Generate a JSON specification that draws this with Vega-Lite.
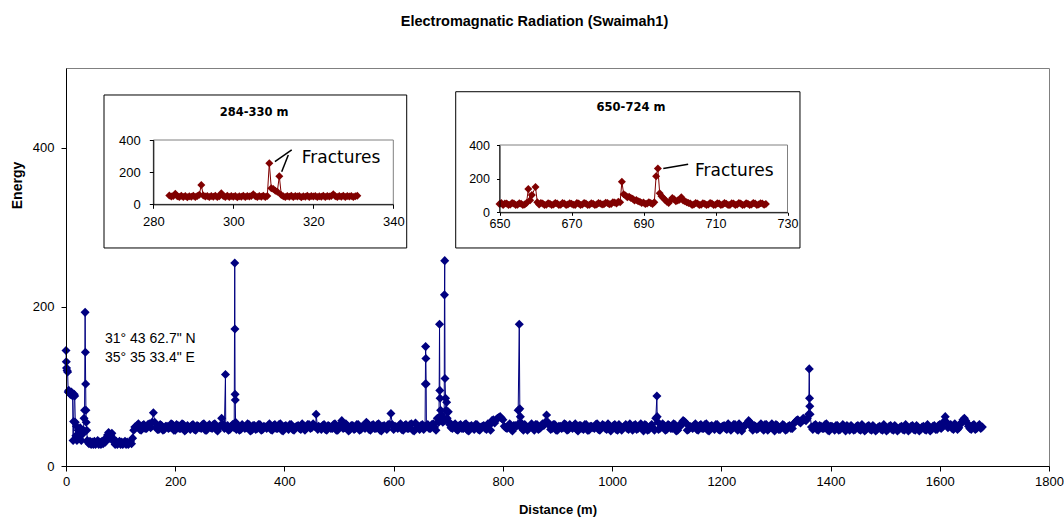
{
  "$schema": "https://vega.github.io/schema/vega-lite/v6.json",
  "autosize": "none",
  "width": 983,
  "height": 398,
  "padding": {"left": 66, "top": 68, "right": 15, "bottom": 54},
  "background": "white",
  "title": {"text": "Electromagnatic Radiation (Swaimah1)", "font": "Liberation Sans", "fontSize": 14.5, "fontWeight": "bold", "anchor": "middle", "frame": "group", "dx": -23, "offset": 28, "baseline": "alphabetic", "color": "#000"},
  "config": {
    "view": {"stroke": "#808080", "strokeWidth": 1},
    "axis": {"grid": false, "domainColor": "#000", "tickColor": "#000", "labelColor": "#000", "titleColor": "#000", "domainWidth": 1, "tickWidth": 1}
  },
  "datasets": {
    "main": [
      {"x":0,"y":145},{"x":0.5,"y":131},{"x":1,"y":123},{"x":2,"y":120},{"x":3,"y":118},{"x":4,"y":93},{"x":5,"y":95},{"x":6,"y":92},{"x":8,"y":90},{"x":10,"y":93},{"x":11,"y":91},{"x":12,"y":88},{"x":13,"y":32},{"x":14,"y":56},{"x":15,"y":90},{"x":16,"y":88},{"x":17,"y":55},{"x":18,"y":38},{"x":19,"y":50},{"x":20,"y":32},{"x":22,"y":45},{"x":24,"y":35},{"x":26,"y":48},{"x":28,"y":32},{"x":30,"y":40},{"x":32,"y":45},{"x":33,"y":60},{"x":34,"y":70},{"x":35,"y":193},{"x":35.5,"y":143},{"x":36,"y":103},{"x":36.5,"y":70},{"x":37,"y":55},{"x":38,"y":45},{"x":39,"y":32},{"x":40,"y":30},
      {"x":42,"y":28},{"x":44,"y":31},{"x":46,"y":27},{"x":48,"y":30},{"x":50,"y":27},{"x":52,"y":31},{"x":54,"y":27},{"x":56,"y":29},{"x":58,"y":32},{"x":60,"y":27},{"x":62,"y":30},{"x":64,"y":27},{"x":66,"y":31},{"x":68,"y":28},{"x":70,"y":33},{"x":72,"y":30},{"x":74,"y":35},{"x":76,"y":39},{"x":78,"y":42},{"x":80,"y":35},{"x":82,"y":38},{"x":84,"y":41},{"x":86,"y":35},{"x":88,"y":30},{"x":90,"y":27},{"x":92,"y":31},{"x":94,"y":27},{"x":96,"y":29},{"x":98,"y":31},{"x":100,"y":27},{"x":102,"y":30},{"x":104,"y":27},{"x":106,"y":29},{"x":108,"y":31},{"x":110,"y":27},{"x":112,"y":30},{"x":114,"y":27},{"x":116,"y":29},{"x":118,"y":31},{"x":120,"y":28},{"x":122,"y":35},{"x":124,"y":45},
      {"x":126,"y":49},{"x":130,"y":51},{"x":135,"y":46},{"x":140,"y":51},{"x":145,"y":47},{"x":150,"y":52},{"x":155,"y":48},{"x":160,"y":67},{"x":165,"y":49},{"x":170,"y":46},{"x":175,"y":51},{"x":180,"y":46},{"x":185,"y":50},{"x":190,"y":48},{"x":195,"y":52},{"x":200,"y":45},{"x":205,"y":51},{"x":210,"y":47},{"x":215,"y":52},{"x":220,"y":46},{"x":225,"y":49},{"x":230,"y":51},{"x":235,"y":46},{"x":240,"y":51},{"x":245,"y":48},{"x":250,"y":52},{"x":255,"y":45},{"x":260,"y":50},{"x":265,"y":48},{"x":270,"y":52},{"x":275,"y":46},{"x":280,"y":49},{"x":285,"y":60},{"x":290,"y":47},{"x":292,"y":115},{"x":294,"y":48},{"x":296,"y":51},{"x":300,"y":46},{"x":305,"y":52},{"x":308,"y":48},{"x":309,"y":255},{"x":309.3,"y":172},{"x":309.6,"y":90},{"x":310,"y":83},{"x":310.5,"y":55},{"x":312,"y":46},{"x":315,"y":51},{"x":320,"y":46},{"x":325,"y":50},{"x":330,"y":48},{"x":335,"y":52},{"x":340,"y":45},{"x":345,"y":51},{"x":350,"y":47},{"x":355,"y":52},{"x":360,"y":46},{"x":365,"y":49},{"x":370,"y":51},{"x":375,"y":46},{"x":380,"y":51},{"x":385,"y":47},{"x":390,"y":52},{"x":395,"y":45},{"x":400,"y":50},
      {"x":405,"y":48},{"x":410,"y":52},{"x":415,"y":46},{"x":420,"y":49},{"x":425,"y":51},{"x":430,"y":46},{"x":435,"y":51},{"x":440,"y":47},{"x":445,"y":52},{"x":450,"y":48},{"x":455,"y":50},{"x":458,"y":65},{"x":461,"y":46},{"x":465,"y":49},{"x":470,"y":51},{"x":475,"y":46},{"x":480,"y":51},{"x":485,"y":47},{"x":490,"y":52},{"x":495,"y":45},{"x":500,"y":50},{"x":505,"y":57},{"x":510,"y":48},{"x":515,"y":51},{"x":520,"y":46},{"x":525,"y":51},{"x":530,"y":47},{"x":535,"y":52},{"x":540,"y":46},{"x":545,"y":49},{"x":550,"y":55},{"x":555,"y":46},{"x":560,"y":51},{"x":565,"y":47},{"x":570,"y":52},{"x":575,"y":45},{"x":580,"y":50},{"x":585,"y":48},{"x":590,"y":52},{"x":595,"y":66},{"x":600,"y":46},{"x":605,"y":49},{"x":610,"y":51},{"x":615,"y":46},{"x":620,"y":51},{"x":625,"y":47},{"x":630,"y":52},{"x":635,"y":45},{"x":640,"y":54},{"x":645,"y":48},{"x":650,"y":51},{"x":655,"y":46},{"x":658,"y":103},{"x":658.5,"y":150},{"x":659,"y":135},{"x":659.5,"y":103},{"x":660,"y":51},{"x":665,"y":47},{"x":670,"y":52},{"x":675,"y":49},{"x":680,"y":60},{"x":683,"y":57},{"x":684,"y":178},{"x":684.5,"y":95},{"x":685,"y":85},{"x":686,"y":70},{"x":688,"y":62},{"x":690,"y":55},{"x":692,"y":60},{"x":693,"y":215},{"x":693.5,"y":258},{"x":694,"y":110},{"x":695,"y":85},{"x":696,"y":70},{"x":697,"y":80},{"x":698,"y":60},{"x":700,"y":68},{"x":702,"y":55},
      {"x":705,"y":48},{"x":710,"y":51},{"x":715,"y":46},{"x":720,"y":51},{"x":725,"y":47},{"x":730,"y":52},{"x":735,"y":45},{"x":740,"y":50},{"x":745,"y":48},{"x":750,"y":52},{"x":755,"y":46},{"x":760,"y":49},{"x":765,"y":51},{"x":770,"y":46},{"x":775,"y":51},{"x":780,"y":57},{"x":785,"y":54},{"x":790,"y":60},{"x":795,"y":62},{"x":800,"y":58},{"x":805,"y":48},{"x":810,"y":51},{"x":815,"y":46},{"x":820,"y":51},{"x":825,"y":50},{"x":828,"y":70},{"x":830,"y":178},{"x":831,"y":72},{"x":832,"y":62},{"x":835,"y":47},{"x":840,"y":52},{"x":845,"y":45},{"x":850,"y":50},{"x":855,"y":48},{"x":860,"y":52},{"x":865,"y":46},{"x":870,"y":49},{"x":875,"y":51},{"x":880,"y":64},{"x":885,"y":51},{"x":890,"y":47},{"x":895,"y":52},{"x":900,"y":45},{"x":905,"y":50},{"x":910,"y":48},{"x":915,"y":52},{"x":920,"y":46},{"x":925,"y":49},{"x":930,"y":51},{"x":935,"y":46},{"x":940,"y":51},{"x":945,"y":47},{"x":950,"y":52},{"x":955,"y":45},{"x":960,"y":50},{"x":965,"y":48},{"x":970,"y":52},{"x":975,"y":46},{"x":980,"y":49},{"x":985,"y":51},{"x":990,"y":46},{"x":995,"y":51},{"x":1000,"y":47},
      {"x":1005,"y":52},{"x":1010,"y":45},{"x":1015,"y":50},{"x":1020,"y":48},{"x":1025,"y":52},{"x":1030,"y":46},{"x":1035,"y":49},{"x":1040,"y":51},{"x":1045,"y":46},{"x":1050,"y":51},{"x":1055,"y":47},{"x":1060,"y":52},{"x":1065,"y":45},{"x":1070,"y":50},{"x":1075,"y":48},{"x":1080,"y":60},{"x":1082,"y":88},{"x":1084,"y":55},{"x":1085,"y":46},{"x":1090,"y":49},{"x":1095,"y":51},{"x":1100,"y":46},{"x":1105,"y":51},{"x":1110,"y":47},{"x":1115,"y":52},{"x":1120,"y":45},{"x":1125,"y":50},{"x":1130,"y":57},{"x":1135,"y":54},{"x":1140,"y":46},{"x":1145,"y":49},{"x":1150,"y":51},{"x":1155,"y":46},{"x":1160,"y":51},{"x":1165,"y":47},{"x":1170,"y":52},{"x":1175,"y":45},{"x":1180,"y":50},{"x":1185,"y":48},{"x":1190,"y":52},{"x":1195,"y":46},{"x":1200,"y":49},{"x":1205,"y":51},{"x":1210,"y":46},{"x":1215,"y":51},{"x":1220,"y":47},{"x":1225,"y":52},{"x":1230,"y":45},{"x":1235,"y":50},{"x":1240,"y":48},{"x":1245,"y":52},{"x":1250,"y":57},{"x":1255,"y":49},{"x":1260,"y":51},{"x":1265,"y":46},{"x":1270,"y":51},{"x":1275,"y":47},{"x":1280,"y":52},{"x":1285,"y":45},{"x":1290,"y":50},{"x":1295,"y":48},{"x":1300,"y":52},{"x":1305,"y":46},{"x":1310,"y":49},{"x":1315,"y":51},{"x":1320,"y":46},{"x":1325,"y":51},{"x":1330,"y":47},{"x":1335,"y":55},{"x":1340,"y":58},{"x":1345,"y":54},{"x":1350,"y":60},{"x":1355,"y":57},{"x":1360,"y":65},{"x":1361,"y":122},{"x":1361.5,"y":85},{"x":1362,"y":75},{"x":1362.5,"y":65},{"x":1365,"y":49},
      {"x":1370,"y":51},{"x":1375,"y":46},{"x":1380,"y":51},{"x":1385,"y":47},{"x":1390,"y":52},{"x":1395,"y":45},{"x":1400,"y":50},{"x":1405,"y":48},{"x":1410,"y":51},{"x":1415,"y":45},{"x":1420,"y":49},{"x":1425,"y":47},{"x":1430,"y":51},{"x":1435,"y":45},{"x":1440,"y":49},{"x":1445,"y":46},{"x":1450,"y":51},{"x":1455,"y":45},{"x":1460,"y":49},{"x":1465,"y":46},{"x":1470,"y":51},{"x":1475,"y":45},{"x":1480,"y":49},{"x":1485,"y":46},{"x":1490,"y":50},{"x":1495,"y":45},{"x":1500,"y":49},{"x":1505,"y":46},{"x":1510,"y":51},{"x":1515,"y":45},{"x":1520,"y":49},{"x":1525,"y":46},{"x":1530,"y":50},{"x":1535,"y":45},{"x":1540,"y":49},{"x":1545,"y":46},{"x":1550,"y":51},{"x":1555,"y":45},{"x":1560,"y":49},{"x":1565,"y":46},{"x":1570,"y":50},{"x":1575,"y":45},{"x":1580,"y":49},{"x":1585,"y":46},{"x":1590,"y":51},{"x":1595,"y":46},{"x":1600,"y":52},{"x":1605,"y":49},{"x":1610,"y":62},{"x":1615,"y":48},{"x":1620,"y":52},{"x":1625,"y":46},{"x":1630,"y":50},{"x":1635,"y":48},{"x":1640,"y":55},{"x":1645,"y":60},{"x":1650,"y":54},{"x":1655,"y":47},{"x":1660,"y":51},{"x":1665,"y":46},{"x":1670,"y":50},{"x":1675,"y":47},{"x":1678,"y":49},
      {"x":132.5,"y":53},{"x":137.5,"y":45},{"x":142.5,"y":52},{"x":147.5,"y":47},{"x":152.5,"y":53},{"x":157.5,"y":55},{"x":162.5,"y":55},{"x":167.5,"y":46},{"x":172.5,"y":52},{"x":177.5,"y":45},{"x":182.5,"y":50},{"x":187.5,"y":47},{"x":192.5,"y":53},{"x":197.5,"y":45},{"x":202.5,"y":52},{"x":207.5,"y":47},{"x":212.5,"y":53},{"x":217.5,"y":44},{"x":222.5,"y":51},{"x":227.5,"y":46},{"x":232.5,"y":52},{"x":237.5,"y":45},{"x":242.5,"y":50},{"x":247.5,"y":47},{"x":252.5,"y":53},{"x":257.5,"y":45},{"x":262.5,"y":52},{"x":267.5,"y":47},{"x":272.5,"y":53},{"x":277.5,"y":44},{"x":282.5,"y":51},{"x":287.5,"y":52},{"x":292.5,"y":50},{"x":297.5,"y":45},{"x":302.5,"y":50},{"x":307.5,"y":50},{"x":312.5,"y":52},{"x":317.5,"y":45},{"x":322.5,"y":52},{"x":327.5,"y":47},{"x":332.5,"y":53},{"x":337.5,"y":44},{"x":342.5,"y":51},{"x":347.5,"y":46},{"x":352.5,"y":52},{"x":357.5,"y":45},{"x":362.5,"y":50},{"x":367.5,"y":47},{"x":372.5,"y":53},{"x":377.5,"y":45},{"x":382.5,"y":52},{"x":387.5,"y":47},{"x":392.5,"y":53},{"x":397.5,"y":44},
      {"x":402.5,"y":51},{"x":407.5,"y":46},{"x":412.5,"y":52},{"x":417.5,"y":45},{"x":422.5,"y":50},{"x":427.5,"y":47},{"x":432.5,"y":53},{"x":437.5,"y":45},{"x":442.5,"y":52},{"x":447.5,"y":47},{"x":452.5,"y":53},{"x":457.5,"y":50},{"x":462.5,"y":50},{"x":467.5,"y":46},{"x":472.5,"y":52},{"x":477.5,"y":45},{"x":482.5,"y":50},{"x":487.5,"y":47},{"x":492.5,"y":53},{"x":497.5,"y":45},{"x":502.5,"y":52},{"x":507.5,"y":47},{"x":512.5,"y":53},{"x":517.5,"y":44},{"x":522.5,"y":51},{"x":527.5,"y":46},{"x":532.5,"y":52},{"x":537.5,"y":45},{"x":542.5,"y":50},{"x":547.5,"y":47},{"x":552.5,"y":53},{"x":557.5,"y":45},{"x":562.5,"y":52},{"x":567.5,"y":47},{"x":572.5,"y":53},{"x":577.5,"y":44},{"x":582.5,"y":51},{"x":587.5,"y":46},{"x":592.5,"y":52},{"x":597.5,"y":52},{"x":602.5,"y":50},{"x":607.5,"y":47},{"x":612.5,"y":53},{"x":617.5,"y":45},{"x":622.5,"y":52},{"x":627.5,"y":47},{"x":632.5,"y":53},{"x":637.5,"y":44},{"x":642.5,"y":51},{"x":647.5,"y":46},{"x":652.5,"y":52},{"x":657.5,"y":50},{"x":662.5,"y":52},{"x":667.5,"y":47},{"x":672.5,"y":53},{"x":677.5,"y":45},{"x":682.5,"y":55},{"x":687.5,"y":64},{"x":692.5,"y":57},{"x":697.5,"y":68},{"x":702.5,"y":52},
      {"x":707.5,"y":47},{"x":712.5,"y":53},{"x":717.5,"y":45},{"x":722.5,"y":52},{"x":727.5,"y":47},{"x":732.5,"y":53},{"x":737.5,"y":44},{"x":742.5,"y":51},{"x":747.5,"y":46},{"x":752.5,"y":52},{"x":757.5,"y":45},{"x":762.5,"y":50},{"x":767.5,"y":47},{"x":772.5,"y":53},{"x":777.5,"y":45},{"x":782.5,"y":58},{"x":787.5,"y":58},{"x":792.5,"y":61},{"x":797.5,"y":60},{"x":802.5,"y":50},{"x":807.5,"y":47},{"x":812.5,"y":53},{"x":817.5,"y":44},{"x":822.5,"y":51},{"x":827.5,"y":52},{"x":832.5,"y":55},{"x":837.5,"y":45},{"x":842.5,"y":50},{"x":847.5,"y":47},{"x":852.5,"y":53},{"x":857.5,"y":45},{"x":862.5,"y":52},{"x":867.5,"y":47},{"x":872.5,"y":53},{"x":877.5,"y":55},{"x":882.5,"y":55},{"x":887.5,"y":46},{"x":892.5,"y":52},{"x":897.5,"y":45},{"x":902.5,"y":50},{"x":907.5,"y":47},{"x":912.5,"y":53},{"x":917.5,"y":45},{"x":922.5,"y":52},{"x":927.5,"y":47},{"x":932.5,"y":53},{"x":937.5,"y":44},{"x":942.5,"y":51},{"x":947.5,"y":46},{"x":952.5,"y":52},{"x":957.5,"y":45},{"x":962.5,"y":50},{"x":967.5,"y":47},{"x":972.5,"y":53},{"x":977.5,"y":45},{"x":982.5,"y":52},{"x":987.5,"y":47},{"x":992.5,"y":53},{"x":997.5,"y":44},
      {"x":1002.5,"y":51},{"x":1007.5,"y":46},{"x":1012.5,"y":52},{"x":1017.5,"y":45},{"x":1022.5,"y":50},{"x":1027.5,"y":47},{"x":1032.5,"y":53},{"x":1037.5,"y":45},{"x":1042.5,"y":52},{"x":1047.5,"y":47},{"x":1052.5,"y":53},{"x":1057.5,"y":44},{"x":1062.5,"y":51},{"x":1067.5,"y":46},{"x":1072.5,"y":52},{"x":1077.5,"y":45},{"x":1082.5,"y":62},{"x":1087.5,"y":47},{"x":1092.5,"y":53},{"x":1097.5,"y":45},{"x":1102.5,"y":52},{"x":1107.5,"y":47},{"x":1112.5,"y":53},{"x":1117.5,"y":44},{"x":1122.5,"y":51},{"x":1127.5,"y":54},{"x":1132.5,"y":56},{"x":1137.5,"y":45},{"x":1142.5,"y":50},{"x":1147.5,"y":47},{"x":1152.5,"y":53},{"x":1157.5,"y":45},{"x":1162.5,"y":52},{"x":1167.5,"y":47},{"x":1172.5,"y":53},{"x":1177.5,"y":44},{"x":1182.5,"y":51},{"x":1187.5,"y":46},{"x":1192.5,"y":52},{"x":1197.5,"y":45},{"x":1202.5,"y":50},{"x":1207.5,"y":47},{"x":1212.5,"y":53},{"x":1217.5,"y":45},{"x":1222.5,"y":52},{"x":1227.5,"y":47},{"x":1232.5,"y":53},{"x":1237.5,"y":44},{"x":1242.5,"y":51},{"x":1247.5,"y":54},{"x":1252.5,"y":55},{"x":1257.5,"y":45},{"x":1262.5,"y":50},{"x":1267.5,"y":47},{"x":1272.5,"y":53},{"x":1277.5,"y":45},{"x":1282.5,"y":52},{"x":1287.5,"y":47},{"x":1292.5,"y":53},{"x":1297.5,"y":44},
      {"x":1302.5,"y":51},{"x":1307.5,"y":46},{"x":1312.5,"y":52},{"x":1317.5,"y":45},{"x":1322.5,"y":50},{"x":1327.5,"y":47},{"x":1332.5,"y":53},{"x":1337.5,"y":57},{"x":1342.5,"y":56},{"x":1347.5,"y":57},{"x":1352.5,"y":58},{"x":1357.5,"y":60},{"x":1367.5,"y":46},{"x":1372.5,"y":52},{"x":1377.5,"y":45},{"x":1382.5,"y":50},{"x":1387.5,"y":47},{"x":1392.5,"y":53},{"x":1397.5,"y":44},{"x":1402.5,"y":50},{"x":1407.5,"y":45},{"x":1412.5,"y":51},{"x":1417.5,"y":46},{"x":1422.5,"y":52},{"x":1427.5,"y":44},{"x":1432.5,"y":49},{"x":1437.5,"y":51},{"x":1442.5,"y":45},{"x":1447.5,"y":50},{"x":1452.5,"y":46},{"x":1457.5,"y":52},{"x":1462.5,"y":44},{"x":1467.5,"y":50},{"x":1472.5,"y":46},{"x":1477.5,"y":51},{"x":1482.5,"y":44},{"x":1487.5,"y":49},{"x":1492.5,"y":46},{"x":1497.5,"y":52},{"x":1502.5,"y":44},{"x":1507.5,"y":50},{"x":1512.5,"y":46},{"x":1517.5,"y":51},{"x":1522.5,"y":44},{"x":1527.5,"y":49},{"x":1532.5,"y":46},{"x":1537.5,"y":52},{"x":1542.5,"y":44},{"x":1547.5,"y":50},{"x":1552.5,"y":46},{"x":1557.5,"y":51},{"x":1562.5,"y":44},{"x":1567.5,"y":49},{"x":1572.5,"y":46},{"x":1577.5,"y":52},{"x":1582.5,"y":44},{"x":1587.5,"y":50},{"x":1592.5,"y":46},{"x":1597.5,"y":51},{"x":1602.5,"y":47},{"x":1607.5,"y":56},{"x":1612.5,"y":55},{"x":1617.5,"y":51},{"x":1622.5,"y":47},{"x":1627.5,"y":53},{"x":1632.5,"y":46},{"x":1637.5,"y":52},{"x":1642.5,"y":58},{"x":1647.5,"y":57},{"x":1652.5,"y":50},{"x":1657.5,"y":46},{"x":1662.5,"y":52},{"x":1667.5,"y":47},{"x":1672.5,"y":52}
    ],
    "boxes": [
      {"x":69.6,"x2":623.9,"y":466.1,"y2":273.9},
      {"x":713.6,"x2":1344,"y":470.2,"y2":273.9}
    ],
    "coords": [
      {"x":71.4,"y":159.3,"t":"31° 43 62.7\" N"},
      {"x":71.4,"y":135.1,"t":"35° 35 33.4\" E"}
    ],
    "insetTitles": [
      {"x":344.3,"y":443.3,"t":"284-330 m"},
      {"x":1034.6,"y":449.6,"t":"650-724 m"}
    ],
    "ins1": [
      {"x":284,"y":55},{"x":284.5,"y":48},{"x":285,"y":52},{"x":285.5,"y":65},{"x":286,"y":50},{"x":286.5,"y":45},{"x":287,"y":53},{"x":287.5,"y":46},{"x":288,"y":51},{"x":288.5,"y":44},{"x":289,"y":50},{"x":289.5,"y":47},{"x":290,"y":53},{"x":290.5,"y":45},{"x":291,"y":52},{"x":291.5,"y":60},{"x":292,"y":120},{"x":292.5,"y":55},{"x":293,"y":48},{"x":293.5,"y":52},{"x":294,"y":45},{"x":294.5,"y":51},{"x":295,"y":47},{"x":295.5,"y":53},{"x":296,"y":45},{"x":296.5,"y":50},{"x":297,"y":68},{"x":297.5,"y":52},{"x":298,"y":46},{"x":298.5,"y":53},{"x":299,"y":45},{"x":299.5,"y":51},{"x":300,"y":47},{"x":300.5,"y":52},{"x":301,"y":44},{"x":301.5,"y":50},{"x":302,"y":47},{"x":302.5,"y":53},{"x":303,"y":45},{"x":303.5,"y":51},{"x":304,"y":48},{"x":304.5,"y":52},{"x":305,"y":62},{"x":305.5,"y":50},{"x":306,"y":45},{"x":306.5,"y":52},{"x":307,"y":47},{"x":307.5,"y":53},{"x":308,"y":46},{"x":308.5,"y":52},{"x":309,"y":255},{"x":309.5,"y":100},{"x":310,"y":95},{"x":310.5,"y":85},{"x":311,"y":78},{"x":311.5,"y":175},{"x":312,"y":58},{"x":312.5,"y":50},{"x":313,"y":45},{"x":313.5,"y":52},{"x":314,"y":47},{"x":314.5,"y":53},{"x":315,"y":45},{"x":315.5,"y":51},{"x":316,"y":48},{"x":316.5,"y":52},{"x":317,"y":44},{"x":317.5,"y":50},{"x":318,"y":47},{"x":318.5,"y":53},{"x":319,"y":45},{"x":319.5,"y":51},{"x":320,"y":48},{"x":320.5,"y":52},{"x":321,"y":45},{"x":321.5,"y":50},{"x":322,"y":47},{"x":322.5,"y":53},{"x":323,"y":45},{"x":323.5,"y":51},{"x":324,"y":48},{"x":324.5,"y":52},{"x":325,"y":62},{"x":325.5,"y":50},{"x":326,"y":45},{"x":326.5,"y":52},{"x":327,"y":47},{"x":327.5,"y":53},{"x":328,"y":45},{"x":328.5,"y":51},{"x":329,"y":48},{"x":329.5,"y":52},{"x":330,"y":45},{"x":330.5,"y":50},{"x":331,"y":53}
    ],
    "ins2": [
      {"x":650,"y":50},{"x":650.5,"y":56},{"x":651,"y":44},{"x":651.5,"y":53},{"x":652,"y":52},{"x":652.5,"y":43},{"x":653,"y":46},{"x":653.5,"y":55},{"x":654,"y":53},{"x":654.5,"y":44},{"x":655,"y":45},{"x":655.5,"y":54},{"x":656,"y":51},{"x":656.5,"y":43},{"x":657,"y":47},{"x":657.5,"y":55},{"x":658,"y":138},{"x":658.5,"y":72},{"x":659,"y":103},{"x":660,"y":150},{"x":660.5,"y":60},{"x":661,"y":47},{"x":661.5,"y":55},{"x":662,"y":53},{"x":662.5,"y":44},{"x":663,"y":45},{"x":663.5,"y":54},{"x":664,"y":51},{"x":664.5,"y":43},{"x":665,"y":47},{"x":665.5,"y":56},{"x":666,"y":53},{"x":666.5,"y":44},{"x":667,"y":45},{"x":667.5,"y":55},{"x":668,"y":52},{"x":668.5,"y":43},{"x":669,"y":46},{"x":669.5,"y":54},{"x":670,"y":51},{"x":670.5,"y":45},{"x":671,"y":44},{"x":671.5,"y":55},{"x":672,"y":52},{"x":672.5,"y":43},{"x":673,"y":47},{"x":673.5,"y":56},{"x":674,"y":53},{"x":674.5,"y":44},{"x":675,"y":45},{"x":675.5,"y":54},{"x":676,"y":51},{"x":676.5,"y":44},{"x":677,"y":47},{"x":677.5,"y":55},{"x":678,"y":53},{"x":678.5,"y":46},{"x":679,"y":48},{"x":679.5,"y":57},{"x":680,"y":55},{"x":680.5,"y":48},{"x":681,"y":50},{"x":681.5,"y":60},{"x":682,"y":58},{"x":682.5,"y":52},{"x":683,"y":62},{"x":683.5,"y":60},{"x":684,"y":182},{"x":684.5,"y":107},{"x":685,"y":100},{"x":685.5,"y":90},{"x":686,"y":93},{"x":686.5,"y":85},{"x":687,"y":80},{"x":687.5,"y":70},{"x":688,"y":73},{"x":688.5,"y":65},{"x":689,"y":63},{"x":689.5,"y":56},{"x":690,"y":58},{"x":690.5,"y":50},{"x":691,"y":52},{"x":691.5,"y":60},{"x":692,"y":55},{"x":692.5,"y":50},{"x":693,"y":60},{"x":693.5,"y":215},{"x":694,"y":260},{"x":694.5,"y":113},{"x":695,"y":95},{"x":695.5,"y":85},{"x":696,"y":73},{"x":696.5,"y":62},{"x":697,"y":55},{"x":697.5,"y":70},{"x":698,"y":85},{"x":698.5,"y":78},{"x":699,"y":65},{"x":699.5,"y":70},{"x":700,"y":75},{"x":700.5,"y":90},{"x":701,"y":70},{"x":701.5,"y":65},{"x":702,"y":60},{"x":702.5,"y":55},{"x":703,"y":52},{"x":703.5,"y":44},{"x":704,"y":46},{"x":704.5,"y":55},{"x":705,"y":53},{"x":705.5,"y":44},{"x":706,"y":45},{"x":706.5,"y":54},{"x":707,"y":51},{"x":707.5,"y":43},{"x":708,"y":47},{"x":708.5,"y":55},{"x":709,"y":53},{"x":709.5,"y":44},{"x":710,"y":45},{"x":710.5,"y":54},{"x":711,"y":52},{"x":711.5,"y":43},{"x":712,"y":46},{"x":712.5,"y":55},{"x":713,"y":51},{"x":713.5,"y":44},{"x":714,"y":44},{"x":714.5,"y":54},{"x":715,"y":52},{"x":715.5,"y":43},{"x":716,"y":47},{"x":716.5,"y":55},{"x":717,"y":53},{"x":717.5,"y":44},{"x":718,"y":45},{"x":718.5,"y":54},{"x":719,"y":51},{"x":719.5,"y":43},{"x":720,"y":47},{"x":720.5,"y":55},{"x":721,"y":53},{"x":721.5,"y":44},{"x":722,"y":46},{"x":722.5,"y":54},{"x":723,"y":52},{"x":723.5,"y":45},{"x":724,"y":50}
    ],
    "frame1": [{"x":280,"x2":340,"y":0,"y2":400}],
    "frame2": [{"x":650,"x2":730,"y":0,"y2":400}],
    "ann1": [{"x":317.1,"y":288,"t":"Fractures"}],
    "ann2": [{"x":704.3,"y":247,"t":"Fractures"}],
    "arrows1": [
      {"x":310.4,"y":265,"x2":314.6,"y2":338},
      {"x":312.1,"y":203,"x2":313.75,"y2":307}
    ],
    "arrows2": [
      {"x":695.5,"y":261,"x2":702.4,"y2":285}
    ]
  },
  "layer": [
    {
      "encoding": {
        "x": {"field": "x", "type": "quantitative", "scale": {"domain": [0, 1800], "nice": false, "zero": false},
          "axis": {"orient": "bottom", "zindex": 1, "values": [0,200,400,600,800,1000,1200,1400,1600,1800], "format": "d", "tickSize": 5, "labelPadding": 4, "labelFont": "Liberation Sans", "labelFontSize": 13, "labelFlush": false, "title": "Distance (m)", "titleFont": "Liberation Sans", "titleFontWeight": "bold", "titleFontSize": 13, "titleBaseline": "middle", "titleY": 43}},
        "y": {"field": "y", "type": "quantitative", "scale": {"domain": [0, 500], "nice": false},
          "axis": {"orient": "left", "zindex": 1, "values": [0,200,400], "format": "d", "tickSize": 5, "labelPadding": 7, "labelFont": "Liberation Sans", "labelFontSize": 13, "labelFlush": false, "title": "Energy", "titleFont": "Liberation Sans", "titleFontWeight": "bold", "titleFontSize": 14, "titleBaseline": "middle", "titleX": -49, "titleY": 117, "titleAngle": -90}}
      },
      "layer": [
        {"data": {"name": "main"}, "mark": {"type": "line", "color": "#000080", "strokeWidth": 1, "point": {"shape": "diamond", "filled": true, "size": 82, "color": "#000080"}}},
        {"data": {"name": "boxes"}, "mark": {"type": "rect", "fill": "white", "stroke": "#000000", "strokeWidth": 1}, "encoding": {"x2": {"field": "x2"}, "y2": {"field": "y2"}}},
        {"data": {"name": "coords"}, "mark": {"type": "text", "align": "left", "baseline": "middle", "font": "Liberation Sans", "fontSize": 14, "color": "#000"}, "encoding": {"text": {"field": "t"}}},
        {"data": {"name": "insetTitles"}, "mark": {"type": "text", "align": "center", "baseline": "middle", "font": "DejaVu Sans", "fontWeight": "bold", "fontSize": 11.5, "color": "#000"}, "encoding": {"text": {"field": "t"}}}
      ]
    },
    {
      "encoding": {
        "x": {"field": "x", "type": "quantitative", "scale": {"domain": [280, 340], "range": [87.3, 327.3], "nice": false, "zero": false},
          "axis": {"orient": "bottom", "zindex": 3, "offset": -261.7, "values": [280,300,320,340], "tickSize": 4, "labelPadding": 7, "labelFont": "Liberation Sans", "labelFontSize": 13, "labelFlush": false, "title": null}},
        "y": {"field": "y", "type": "quantitative", "scale": {"domain": [0, 400], "range": [136.3, 72], "nice": false, "zero": false},
          "axis": {"orient": "left", "zindex": 3, "offset": -87.3, "values": [0,200,400], "tickSize": 4, "labelPadding": 9, "labelFont": "Liberation Sans", "labelFontSize": 13, "labelFlush": false, "title": null}}
      },
      "layer": [
        {"data": {"name": "frame1"}, "mark": {"type": "rect", "fill": null, "fillOpacity": 0, "stroke": "#808080", "strokeWidth": 1}, "encoding": {"x2": {"field": "x2"}, "y2": {"field": "y2"}}},
        {"data": {"name": "ins1"}, "mark": {"type": "line", "color": "#800000", "strokeWidth": 1, "point": {"shape": "diamond", "filled": true, "size": 64, "color": "#800000"}}},
        {"data": {"name": "arrows1"}, "mark": {"type": "rule", "color": "#000", "strokeWidth": 1.5}, "encoding": {"x2": {"field": "x2"}, "y2": {"field": "y2"}}},
        {"data": {"name": "ann1"}, "mark": {"type": "text", "align": "left", "baseline": "middle", "font": "DejaVu Sans", "fontSize": 17, "color": "#000"}, "encoding": {"text": {"field": "t"}}}
      ]
    },
    {
      "encoding": {
        "x": {"field": "x", "type": "quantitative", "scale": {"domain": [650, 730], "range": [433.5, 721.5], "nice": false, "zero": false},
          "axis": {"orient": "bottom", "zindex": 3, "offset": -253.7, "values": [650,670,690,710,730], "tickSize": 3, "labelPadding": 2, "labelFont": "Liberation Sans", "labelFontSize": 12.5, "labelFlush": false, "title": null}},
        "y": {"field": "y", "type": "quantitative", "scale": {"domain": [0, 400], "range": [144.3, 77], "nice": false, "zero": false},
          "axis": {"orient": "left", "zindex": 3, "offset": -433.5, "values": [0,200,400], "tickSize": 3, "labelPadding": 7, "labelFont": "Liberation Sans", "labelFontSize": 12.5, "labelFlush": false, "title": null}}
      },
      "layer": [
        {"data": {"name": "frame2"}, "mark": {"type": "rect", "fill": null, "fillOpacity": 0, "stroke": "#808080", "strokeWidth": 1}, "encoding": {"x2": {"field": "x2"}, "y2": {"field": "y2"}}},
        {"data": {"name": "ins2"}, "mark": {"type": "line", "color": "#800000", "strokeWidth": 1, "point": {"shape": "diamond", "filled": true, "size": 64, "color": "#800000"}}},
        {"data": {"name": "arrows2"}, "mark": {"type": "rule", "color": "#000", "strokeWidth": 1.5}, "encoding": {"x2": {"field": "x2"}, "y2": {"field": "y2"}}},
        {"data": {"name": "ann2"}, "mark": {"type": "text", "align": "left", "baseline": "middle", "font": "DejaVu Sans", "fontSize": 17, "color": "#000"}, "encoding": {"text": {"field": "t"}}}
      ]
    }
  ],
  "resolve": {"scale": {"x": "independent", "y": "independent"}, "axis": {"x": "independent", "y": "independent"}}
}
